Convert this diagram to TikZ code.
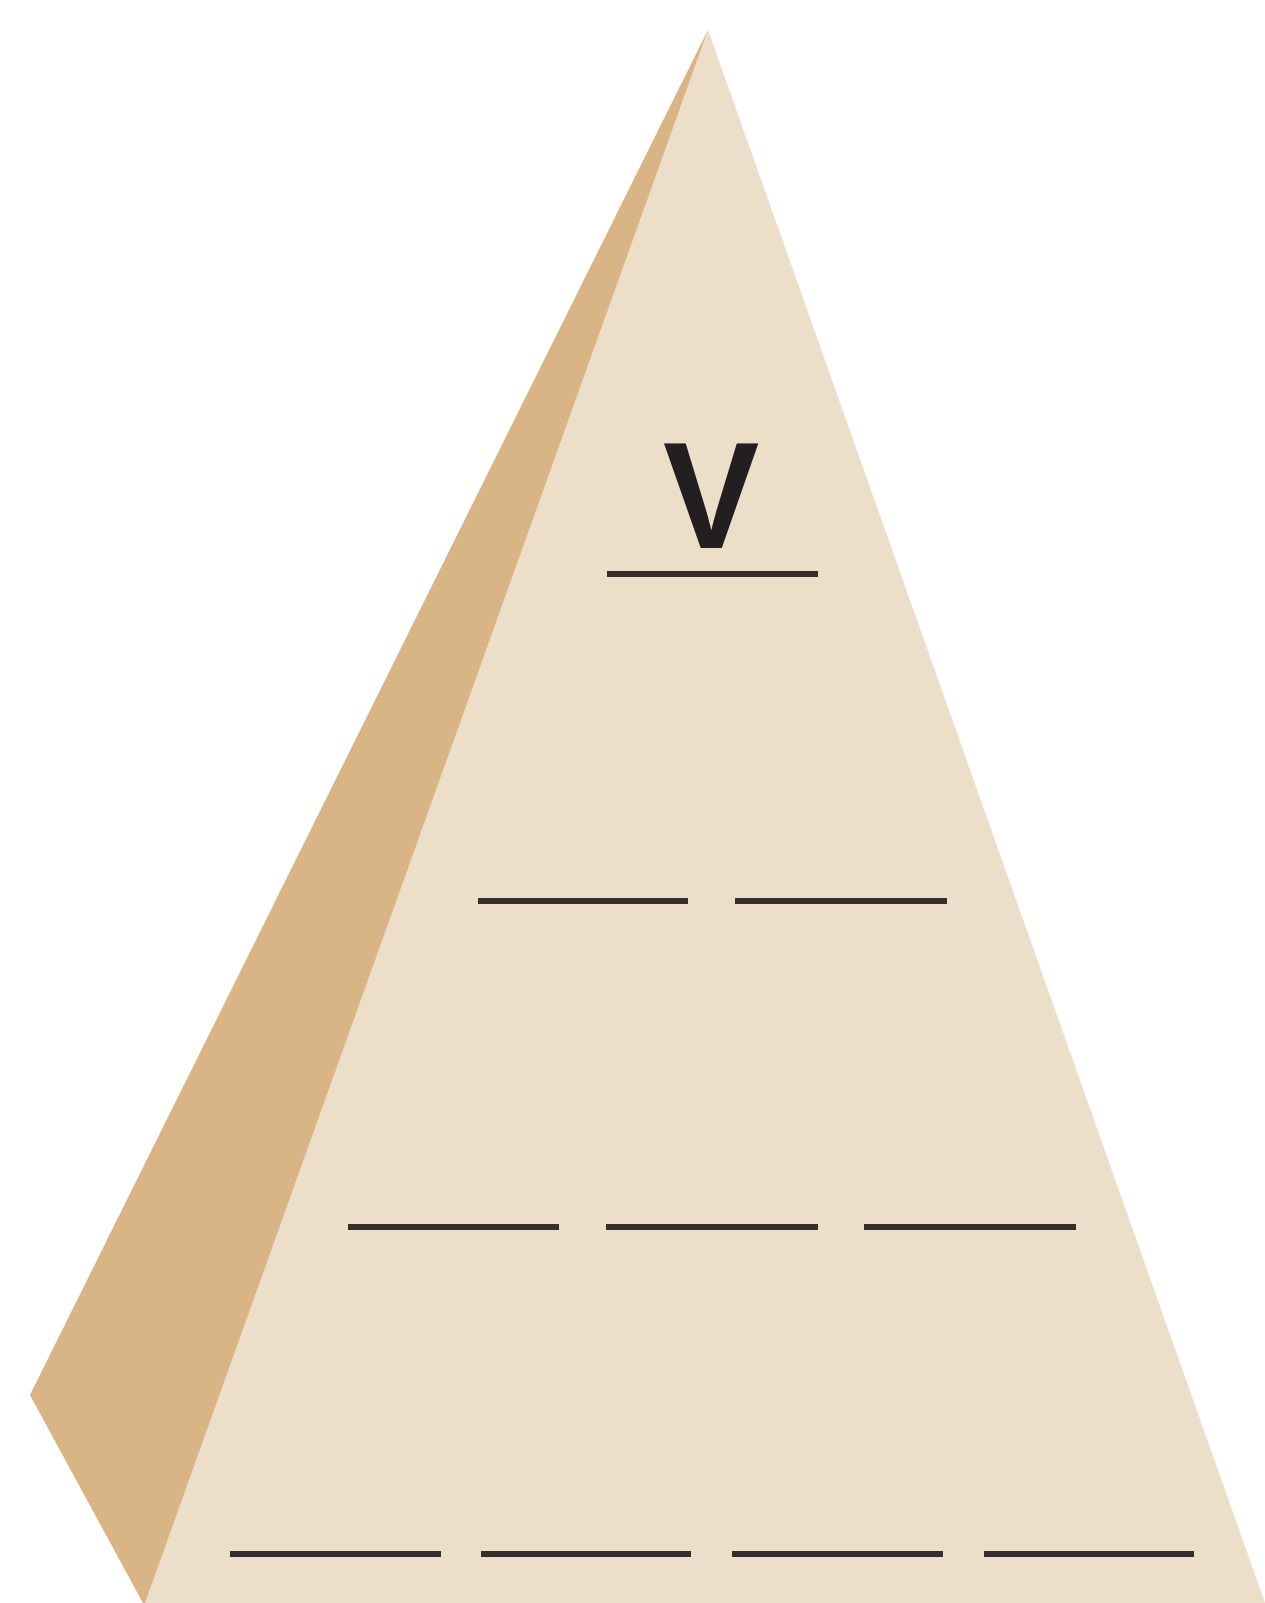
\documentclass[tikz,border=0pt]{standalone}
\usepackage{fontspec}
\setmainfont{Liberation Sans}
\definecolor{frontface}{RGB}{236,222,201}
\definecolor{sideface}{RGB}{217,180,133}
\definecolor{blankline}{RGB}{52,47,42}
\definecolor{letter}{RGB}{35,31,32}
\begin{document}
\begin{tikzpicture}[x=1pt,y=-1pt,
  blank/.style={draw=blankline,line width=5.5pt}]
\useasboundingbox (0,0) rectangle (1265,1603);
% side face
\fill[sideface] (708,30) -- (30,1395) -- (143,1603) -- (150,1603) -- cycle;
% front face
\fill[frontface] (708,30) -- (145,1603) -- (1265,1603) -- cycle;
% letter
\node[text=letter,font=\bfseries\fontsize{152}{152}\selectfont,inner sep=0pt,anchor=base,xscale=0.95] (v) at (712,548) {V};
% row 1
\draw[blank] (607,574) -- (818,574);
% row 2
\draw[blank] (478,901) -- (688,901);
\draw[blank] (735,901) -- (947,901);
% row 3
\draw[blank] (348,1227) -- (559,1227);
\draw[blank] (606,1227) -- (818,1227);
\draw[blank] (864,1227) -- (1076,1227);
% row 4
\draw[blank] (230,1554) -- (441,1554);
\draw[blank] (481,1554) -- (691,1554);
\draw[blank] (732,1554) -- (943,1554);
\draw[blank] (984,1554) -- (1194,1554);
\end{tikzpicture}
\end{document}
